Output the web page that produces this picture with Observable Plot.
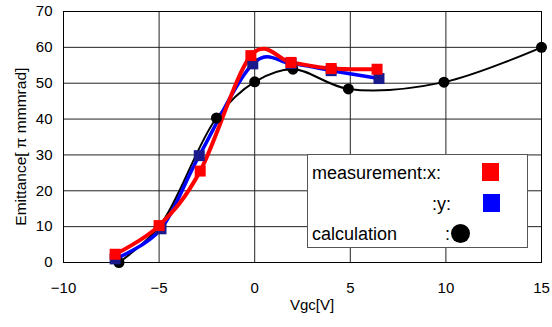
<!DOCTYPE html>
<html>
<head>
<meta charset="utf-8">
<script src="https://cdn.jsdelivr.net/npm/d3@7"></script>
<script src="https://cdn.jsdelivr.net/npm/@observablehq/plot@0.6"></script>
<style>
  html, body { margin: 0; padding: 0; background: #fff; }
  #wrap { position: relative; width: 552px; height: 327px; font-family: "Liberation Sans", Arial, sans-serif; }
  #legend { position: absolute; left: 307px; top: 154px; width: 221px; height: 94px; background: #fff; border: 1px solid #555; box-sizing: border-box; }
  #legend .t { position: absolute; font-size: 18px; color: #000; white-space: nowrap; line-height: 1; }
  #legend .sq { position: absolute; width: 17px; height: 18px; }
  #legend .dot { position: absolute; width: 19px; height: 19px; border-radius: 50%; background: #000; }
</style>
</head>
<body>
<div id="wrap"></div>
<script>
// measurement x
const vgcX = [-7.3, -5, -2.85, -0.2, 1.9, 4, 6.4];
const emitX = [2.3, 10.3, 25.5, 57.7, 55.8, 54.1, 53.9];
// measurement y
const vgcY = [-7.3, -4.9, -2.9, -0.1, 1.9, 4, 6.5];
const emitY = [1, 9.4, 29.8, 55.4, 55.5, 53.5, 51.3];
// calculation
const vgcC = [-7.1, -5, -2, 0, 2, 4.9, 9.9, 15];
const emitC = [0, 10, 40.3, 50.4, 53.9, 48.4, 50.3, 60];

const xTicks = [-10, -5, 0, 5, 10, 15];
const yTicks = [0, 10, 20, 30, 40, 50, 60, 70];

const legendItems = [
  {label: "measurement:x:", key: "x"},
  {label: ":y:", key: "y"},
  {label: "calculation", key: "c"}
];

const toRows = (xs, ys) => xs.map((v, i) => ({v, e: ys[i]}));
const rx = toRows(vgcX, emitX), ry = toRows(vgcY, emitY), rc = toRows(vgcC, emitC);

const chart = Plot.plot({
  width: 552,
  height: 327,
  marginLeft: 63,
  marginRight: 11,
  marginTop: 11,
  marginBottom: 65,
  style: {fontFamily: "Liberation Sans, Arial, sans-serif", fontSize: "15px", color: "#000", background: "#fff"},
  x: {domain: [-10, 15], ticks: xTicks, label: null},
  y: {domain: [0, 70], ticks: yTicks, label: null},
  marks: [
    Plot.gridX(xTicks, {stroke: "#222", strokeOpacity: 1, strokeWidth: 1}),
    Plot.gridY(yTicks, {stroke: "#222", strokeOpacity: 1, strokeWidth: 1}),
    Plot.frame({stroke: "#000", strokeWidth: 1}),
    Plot.axisX({ticks: xTicks, tickSize: 0, tickPadding: 20, fontSize: 15, label: null}),
    Plot.axisY({ticks: yTicks, tickSize: 0, tickPadding: 11, fontSize: 15, label: null}),
    Plot.line(rc, {x: "v", y: "e", stroke: "#000", strokeWidth: 2, curve: "catmull-rom"}),
    Plot.line(ry, {x: "v", y: "e", stroke: "#0000ff", strokeWidth: 3.5, curve: "cardinal", tension: 0}),
    Plot.line(rx, {x: "v", y: "e", stroke: "#ff0000", strokeWidth: 4, curve: "cardinal", tension: 0}),
    Plot.dot(rc, {x: "v", y: "e", fill: "#000", r: 5.5}),
    Plot.dot(ry, {x: "v", y: "e", symbol: "square", fill: "#1a1a8c", r: 6.2}),
    Plot.dot(rx, {x: "v", y: "e", symbol: "square", fill: "#ff0000", r: 6.2}),
    Plot.text(["Vgc[V]"], {frameAnchor: "bottom", x: [3.0], dy: 47, fontSize: 15, fill: "#000"}),
    Plot.text(["Emittance[ π mmmrad]"], {frameAnchor: "left", textAnchor: "middle", y: [32.3], rotate: -90, dx: -42, fontSize: 15.5, fill: "#000"})
  ]
});

const wrap = document.getElementById("wrap");
wrap.appendChild(chart);

const leg = document.createElement("div");
leg.id = "legend";
const pos = {
  x: {text: [4, 9], sym: [174, 8], cls: "sq", color: "#ff0000"},
  y: {text: [124, 40], sym: [175, 39], cls: "sq", color: "#0000ff"},
  c: {text: [4, 70], sym: [143, 69], cls: "dot", color: "#000"}
};
for (const it of legendItems) {
  const p = pos[it.key];
  const t = document.createElement("div");
  t.className = "t";
  t.textContent = it.label;
  t.style.left = p.text[0] + "px";
  t.style.top = p.text[1] + "px";
  leg.appendChild(t);
  if (it.key === "c") {
    const colon = document.createElement("div");
    colon.className = "t";
    colon.textContent = ":";
    colon.style.left = "137px";
    colon.style.top = p.text[1] + "px";
    leg.appendChild(colon);
  }
  const s = document.createElement("div");
  s.className = p.cls;
  s.style.left = p.sym[0] + "px";
  s.style.top = p.sym[1] + "px";
  s.style.background = p.color;
  leg.appendChild(s);
}
wrap.appendChild(leg);
</script>
</body>
</html>
